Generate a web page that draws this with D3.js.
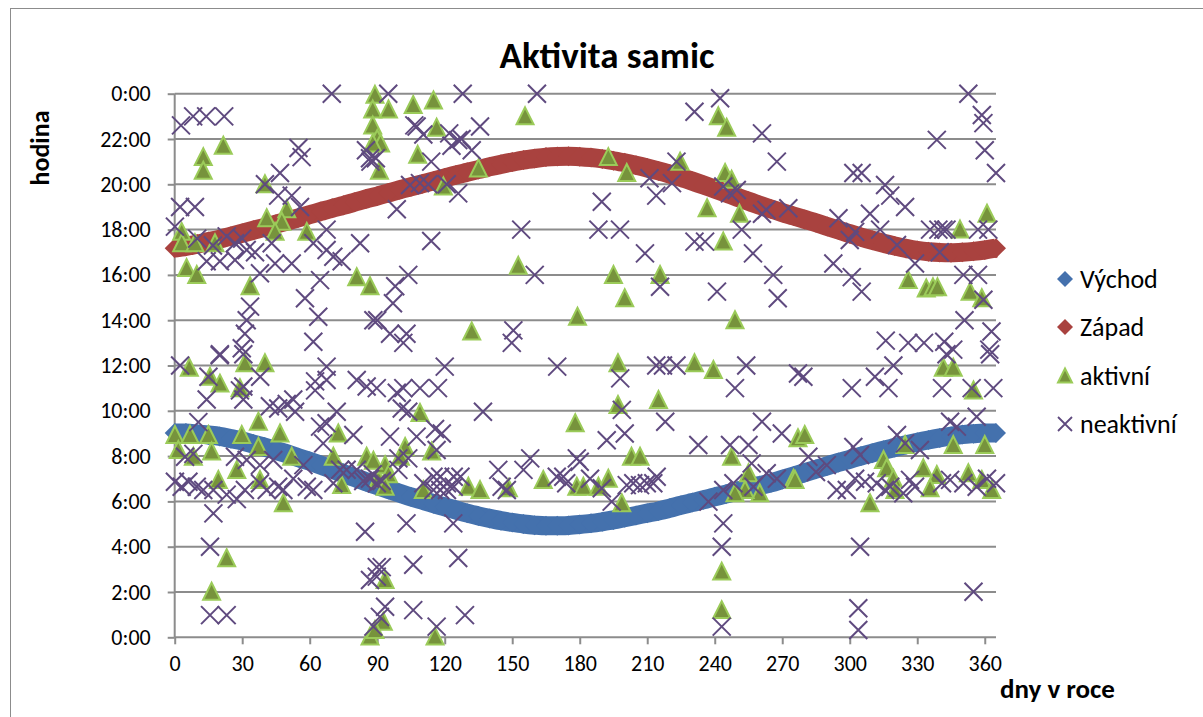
<!DOCTYPE html>
<html>
<head>
<meta charset="utf-8">
<script src="https://cdn.jsdelivr.net/npm/d3@7"></script>
<style>
  html, body { margin: 0; padding: 0; background: #fff; }
  svg { display: block; }
  text { font-family: Carlito, Lato, "Liberation Sans", sans-serif; fill: #000; }
</style>
</head>
<body>
<svg id="chart" width="1203" height="717"></svg>
<script>
// ---------- DATA ----------
const title = "Aktivita samic";
const xAxisTitle = "dny v roce";
const yAxisTitle = "hodina";
const seriesNames = ["Východ", "Západ", "aktivní", "neaktivní"];
const xTicks = [0, 30, 60, 90, 120, 150, 180, 210, 240, 270, 300, 330, 360];
const yTicks = [0, 2, 4, 6, 8, 10, 12, 14, 16, 18, 20, 22, 24];
const yTickLabels = ["0:00", "2:00", "4:00", "6:00", "8:00", "10:00", "12:00", "14:00", "16:00", "18:00", "20:00", "22:00", "0:00"];

// sunrise / sunset (hours), read every 5 days
const sunDays = [0,5,10,15,20,25,30,35,40,45,50,55,60,65,70,75,80,85,90,95,100,105,110,115,120,125,130,135,140,145,150,155,160,165,170,175,180,185,190,195,200,205,210,215,220,225,230,235,240,245,250,255,260,265,270,275,280,285,290,295,300,305,310,315,320,325,330,335,340,345,350,355,360,365];
const vychod = [9.02,9.02,8.98,8.93,8.87,8.77,8.67,8.53,8.40,8.25,8.10,7.93,7.77,7.60,7.42,7.23,7.05,6.87,6.70,6.52,6.36,6.20,6.05,5.90,5.76,5.62,5.48,5.36,5.25,5.15,5.07,5.00,4.95,4.92,4.92,4.94,4.98,5.03,5.10,5.18,5.28,5.38,5.48,5.58,5.70,5.83,5.95,6.07,6.20,6.32,6.45,6.57,6.70,6.82,6.97,7.12,7.27,7.42,7.57,7.72,7.86,8.00,8.13,8.26,8.38,8.50,8.61,8.71,8.80,8.88,8.95,8.99,9.02,9.02];
const zapad = [17.18,17.26,17.36,17.47,17.58,17.71,17.84,17.97,18.10,18.24,18.38,18.52,18.66,18.80,18.94,19.07,19.21,19.35,19.48,19.62,19.76,19.89,20.02,20.15,20.28,20.41,20.53,20.65,20.77,20.88,20.98,21.07,21.14,21.20,21.23,21.24,21.22,21.18,21.12,21.04,20.95,20.84,20.72,20.59,20.45,20.30,20.14,19.97,19.79,19.61,19.43,19.25,19.08,18.91,18.75,18.60,18.45,18.30,18.14,17.98,17.82,17.67,17.53,17.40,17.28,17.17,17.08,17.02,16.99,16.98,17.00,17.04,17.10,17.18];

// active females (day, hour)
const aktivniDay = [3.1,3.1,9,17.9,5.3,9.8,12.7,12.7,21.6,40.1,40.9,49.8,47.6,44.6,58.7,33.5,80.9,86.8,
  6.5,31.2,40.1,15.7,20.1,29,0.1,6.8,15,29.8,37.2,46.8,72.7,1.6,8.3,16.4,37.2,52,70.5,85.3,90.5,
  27.6,37.9,19.4,48.3,74.2,23.1,16.4,86.8,
  89,88,95,88,90,91.5,88,91,106,115,116.4,108,119.4,135,155.7,152.7,179,132,109,178,
  102.4,100.3,114.2,93.5,88.3,95,93.5,110.5,130.5,135.7,148.3,163.8,178.7,93.5,92.7,89,115.7,
  192.7,200.9,224.6,241.6,245.3,244.6,247.5,236.6,251,243.8,195,215.7,200,249,197,231,239.4,197,215,
  247.5,277,203,206.8,181.6,188.3,192.7,198.7,255,260,253.5,249,275,243.1,243.1,
  280,275.7,341.6,346,355,346,360,315,316.4,319.4,320.1,324.6,332.7,338.7,335.7,352.7,358.7,363.1,309,
  349,361,326,334,337,339,353.5,358.7];
const aktivniHour = [17.9,17.4,17.4,17.4,16.3,16.0,21.2,20.6,21.7,20.0,18.5,18.9,18.35,17.9,17.9,15.5,15.9,15.5,
  11.9,12.1,12.1,11.5,11.2,11.0,8.93,8.93,8.93,8.93,9.52,9.0,9.0,8.27,7.97,8.2,8.4,7.97,7.97,7.97,7.0,
  7.39,6.95,6.95,5.92,6.72,3.49,2.01,0.03,
  23.95,23.3,23.3,22.6,22.0,21.8,21.8,20.6,23.5,23.7,22.5,21.3,19.9,20.7,23.0,16.4,14.15,13.5,9.9,9.45,
  8.4,7.97,8.2,7.6,7.8,7.2,6.65,6.5,6.65,6.5,6.58,6.95,6.65,2.53,0.69,0.32,0.03,
  21.2,20.5,21.0,23.0,22.5,20.5,20.2,18.94,18.7,17.47,16.0,16.0,14.97,14.0,12.1,12.1,11.8,10.26,10.48,
  7.97,8.79,7.97,7.97,6.65,6.65,7.0,5.92,7.24,6.36,6.5,6.36,7.0,2.9,1.2,
  8.93,6.95,11.9,11.9,10.9,8.49,8.49,7.83,7.46,7.0,6.5,8.49,7.46,7.17,6.58,7.24,6.95,6.5,5.92,
  18.0,18.7,15.77,15.4,15.45,15.45,15.26,14.97];

// inactive females (day, hour)
const neaktivniDay = [2.8,8.2,14,22,69.8,94.9,128,161,242.4,231,261,338.7,352.7,358.7,359.4,360,365,267.6,
  55,56.4,46.8,40.1,2.4,9,46,52,55.7,86.8,89.4,85,87,107.5,110.5,106.5,
  122,126,123,127.5,132,135.7,114,104.6,109,112.7,120.9,126,98.7,
  154,114,160,103.8,98,97,90,95.7,103,101.6,150.5,149.8,
  211,214,221,223,243.8,246.8,249.8,189.8,188.3,197.9,
  252,261,263,272.7,209,231,235.7,257,215.7,241,266,268,
  301.6,305.3,315.7,318,324.6,295,302.4,300,309,313.5,321,292.7,300.9,305.3,329,
  335.7,339.4,341.6,343,340,357,361.6,350.5,357,359.4,351,363,316,326,333,342,346,362,
  0.1,23.1,26.8,32,35.7,14.2,20.1,26.8,37.9,44.6,52,43.1,61.6,67.5,67.5,70.5,74.2,82.4,64.6,57.9,63.8,61.6,
  33.5,32,31.2,29.8,88.3,20.1,30.5,10,17,30,
  2.4,20,15,30.5,29,38,14.2,30.5,42.3,46,49.8,52.7,53.5,67.5,62.4,67.5,62.4,80.9,85.3,10.5,72,64.6,79.4,
  120,170,89.8,98.7,101.6,109,117,100.9,103.8,137,95.7,107.5,115.7,118.7,116.4,
  198,214,217,223,254,249,277,198.7,192,200,218,261,269.8,232.7,246.8,255,256.4,
  319.4,343,362.4,279.4,300.9,311.2,317.2,341,354.2,363.8,344.6,347.6,356.4,
  281.6,289.8,301.6,304.6,321,324.6,331.2,
  0.1,3.1,6.1,9.8,12.7,17.2,23.1,31.2,37.9,40.9,46,48.3,52.7,58.7,61.6,70.5,73.5,76.4,80.9,83.8,86.8,89.8,
  4.6,8.3,26.8,32,37.9,43.8,57.2,66,67.5,27.6,
  99.4,103.8,99.4,110.5,115,118,121,124,127,115,118,121,124,143.8,145.3,147.6,155,158,169.8,172.7,174,178.7,88,92,
  180,184.6,189.8,194.2,200.9,203.8,206.8,209.8,212.7,214.2,237.2,243.8,248.3,257.2,263.1,267.6,
  294.2,298.7,302.4,306.8,312,315.7,318,323.8,326.8,329,341,344.6,350.5,356.4,361,365,285,
  17.2,15.7,84.6,15.7,23.1,86.8,89.8,88.3,
  103,123.8,126,106,92,89.8,93.5,91.2,106,129,116.4,
  243.8,243.1,243.1,304.6,355,303.8,303.8];
const neaktivniHour = [22.6,23.0,23.0,23.0,24.0,24.0,24.0,24.0,23.8,23.2,22.25,21.96,24.0,23.06,22.7,21.5,20.5,21.0,
  21.6,21.2,20.5,20.0,19.0,19.0,19.5,19.5,19.0,21.15,21.15,21.5,21.0,22.55,22.2,22.6,
  22.25,21.95,21.7,22.0,21.5,22.55,21.0,19.97,20.05,20.0,20.0,19.6,18.9,
  18.0,17.5,16.0,16.0,15.5,14.75,14.0,13.4,13.4,13.0,13.55,13.0,
  20.27,19.5,20.05,21.0,19.9,19.6,19.75,19.23,18.0,18.0,
  18.0,18.7,18.87,18.94,16.95,17.47,17.47,16.95,15.48,15.26,16.0,14.97,
  20.5,20.5,19.97,19.5,19.0,18.5,17.9,17.54,18.7,18.0,17.32,16.5,15.9,15.26,16.5,
  18.0,18.0,18.0,18.0,17.0,18.0,18.0,16.0,16.0,14.9,14.0,13.5,13.1,13.0,13.0,13.05,12.7,12.7,
  18.13,17.7,17.4,17.1,17.0,16.6,16.6,16.66,16.07,16.5,16.5,17.4,17.4,18.0,17.1,16.8,16.6,17.4,15.77,14.97,14.15,13.05,
  14.6,14.0,13.4,12.76,14.0,12.5,12.5,17.6,17.3,17.6,
  12.0,12.45,11.5,11.07,10.9,11.5,10.5,10.5,10.2,10.1,10.3,10.5,9.96,11.95,11.3,11.36,10.9,11.36,11.07,9.5,9.96,9.3,8.93,
  11.95,11.95,11.0,10.8,11.0,11.0,11.0,10.1,9.96,9.96,8.86,8.86,9.2,9.0,8.27,
  11.43,12.0,12.0,12.0,12.0,11.0,11.65,10.04,8.7,9.0,9.52,9.52,9.0,8.49,8.49,8.49,7.68,
  12.0,12.5,12.5,11.5,11.0,11.5,11.0,11.0,11.0,11.0,9.52,9.3,9.74,
  7.97,7.6,8.4,8.05,8.93,8.56,8.27,
  6.87,6.65,6.87,6.65,6.5,6.5,6.3,6.5,6.8,6.5,6.65,6.5,7.0,6.65,6.5,6.8,7.4,7.4,7.4,6.9,7.0,6.8,
  7.97,8.1,7.97,7.83,7.6,7.83,7.6,8.56,9.45,6.1,
  7.9,7.9,7.39,6.8,7.09,7.09,6.8,7.09,7.09,6.5,6.5,6.5,6.65,7.39,6.65,6.5,7.39,7.9,7.09,7.09,6.8,7.9,7.2,6.9,
  7.75,7.0,6.58,5.99,6.72,6.8,6.72,6.8,6.8,7.09,5.99,6.5,6.8,6.65,7.24,7.0,
  6.5,6.5,7.0,6.87,6.8,6.5,6.65,6.36,6.95,6.65,6.8,6.95,6.8,6.65,7.0,6.8,7.3,
  5.47,4.0,4.66,0.98,0.98,2.53,3.1,0.47,
  5.03,5.03,3.5,3.2,3.1,2.68,1.35,0.9,1.2,0.98,0.47,
  5.03,4.0,0.47,4.0,2.01,1.28,0.32];

// ---------- CHART ----------
const svg = d3.select("#chart");
const colors = { vychod: "#4471AD", zapad: "#A9423F", triFill: "#77933C", triStroke: "#9BCB59", cross: "#5F4A7F", grid: "#8C8C8C" };

// chart area border
svg.append("rect").attr("x", 10.5).attr("y", 8.5).attr("width", 1300).attr("height", 800)
  .attr("fill", "none").attr("stroke", "#8C8C8C").attr("stroke-width", 1);

const x = d3.scaleLinear().domain([0, 365]).range([174.7, 996]);
const y = d3.scaleLinear().domain([0, 24]).range([637.3, 93.7]);

// gridlines
svg.append("g").selectAll("line").data(yTicks.slice(1)).join("line")
  .attr("x1", x(0)).attr("x2", x(365)).attr("y1", d => y(d)).attr("y2", d => y(d))
  .attr("stroke", colors.grid).attr("stroke-width", 2);

// axes
const yAxis = d3.axisLeft(y).tickValues(yTicks).tickFormat((d, i) => yTickLabels[i]).tickSize(7).tickPadding(17);
const gy = svg.append("g").attr("transform", `translate(${x(0)},0)`).call(yAxis);
const xAxis = d3.axisBottom(x).tickValues(xTicks).tickSize(7).tickPadding(11);
const gx = svg.append("g").attr("transform", `translate(0,${y(0)})`).call(xAxis);
[gx, gy].forEach(g => {
  g.select(".domain").attr("stroke", colors.grid).attr("stroke-width", 2);
  g.selectAll(".tick line").attr("stroke", colors.grid).attr("stroke-width", 2);
  g.selectAll(".tick text").attr("font-family", "Carlito, Lato, sans-serif").attr("font-size", 22).attr("fill", "#000");
});
gx.select(".domain").attr("d", `M${x(0)},0H${x(365)}`);
gy.select(".domain").attr("d", `M0,${y(0)}V${y(24)}`);

// sunrise / sunset bands
const diamond = r => `M0,${-r}L${r},0L0,${r}L${-r},0Z`;
const line = d3.line().x((d, i) => x(sunDays[i])).y(d => y(d)).curve(d3.curveMonotoneX);
[[vychod, colors.vychod], [zapad, colors.zapad]].forEach(([vals, c]) => {
  svg.append("path").attr("d", line(vals)).attr("fill", "none").attr("stroke", c).attr("stroke-width", 19);
  svg.append("g").selectAll("path").data(vals).join("path")
    .attr("transform", (d, i) => `translate(${x(sunDays[i])},${y(d)})`)
    .attr("d", diamond(10)).attr("fill", c);
});

// active: triangles
const tri = (w, h) => `M0,${-h / 2 - 1}L${w / 2},${h / 2}L${-w / 2},${h / 2}Z`;
svg.append("g").selectAll("path").data(aktivniDay).join("path")
  .attr("transform", (d, i) => `translate(${x(d)},${y(aktivniHour[i])})`)
  .attr("d", tri(17, 16)).attr("fill", colors.triFill).attr("stroke", colors.triStroke).attr("stroke-width", 2);

// inactive: crosses
const cross = r => `M${-r},${-r}L${r},${r}M${-r},${r}L${r},${-r}`;
svg.append("g").selectAll("path").data(neaktivniDay).join("path")
  .attr("transform", (d, i) => `translate(${x(d)},${y(neaktivniHour[i])})`)
  .attr("d", cross(9)).attr("fill", "none").attr("stroke", colors.cross).attr("stroke-width", 2);

// titles
svg.append("text").attr("x", 607).attr("y", 68).attr("text-anchor", "middle")
  .attr("font-size", 37).attr("font-weight", "bold").text(title);
svg.append("text").attr("transform", "translate(49,148) rotate(-90)").attr("text-anchor", "middle")
  .attr("font-size", 26).attr("font-weight", "bold").text(yAxisTitle);
svg.append("text").attr("x", 1000).attr("y", 698)
  .attr("font-size", 27).attr("font-weight", "bold").text(xAxisTitle);

// legend
const legY = [279, 327, 376, 424];
const lg = svg.append("g");
seriesNames.forEach((name, i) => {
  const g = lg.append("g").attr("transform", `translate(1065,${legY[i]})`);
  if (i === 0) g.append("path").attr("d", diamond(8)).attr("fill", colors.vychod);
  if (i === 1) g.append("path").attr("d", diamond(8)).attr("fill", colors.zapad);
  if (i === 2) g.append("path").attr("d", tri(14, 13)).attr("fill", colors.triFill).attr("stroke", colors.triStroke).attr("stroke-width", 2);
  if (i === 3) g.append("path").attr("d", cross(7)).attr("fill", "none").attr("stroke", colors.cross).attr("stroke-width", 1.8);
  g.append("text").attr("x", 15).attr("y", 0).attr("dy", "0.36em").attr("font-size", 26).text(name);
});
</script>
</body>
</html>
